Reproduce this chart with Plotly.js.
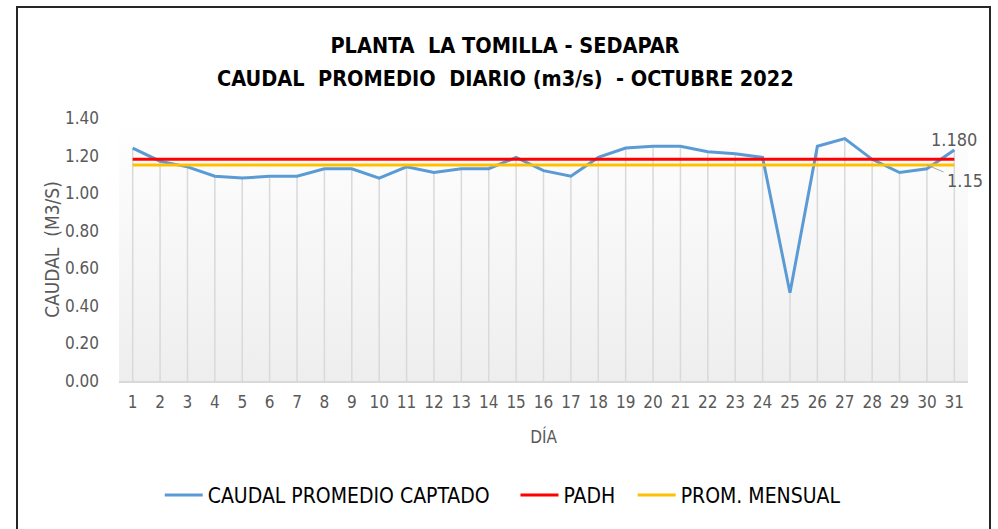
<!DOCTYPE html>
<html>
<head>
<meta charset="utf-8">
<script src="https://cdn.plot.ly/plotly-3.0.1.min.js"></script>
<style>
  html, body { margin: 0; padding: 0; background: #ffffff; overflow: hidden; }
  #wrap { position: relative; width: 998px; height: 529px; }
  #frame { position: absolute; left: 16px; top: 6px; width: 975px; height: 600px; border: 2px solid #262626; box-sizing: border-box; pointer-events: none; z-index: 5; }
  #chart { position: absolute; left: 0; top: 0; width: 998px; height: 529px; }
</style>
</head>
<body>
<div id="wrap">
  <div id="chart"></div>
  <div id="frame"></div>
</div>
<script>
// ---- data ----
const days = ["1","2","3","4","5","6","7","8","9","10","11","12","13","14","15","16","17","18","19","20","21","22","23","24","25","26","27","28","29","30","31"];
const caudal = [1.24,1.17,1.14,1.09,1.08,1.09,1.09,1.13,1.13,1.08,1.14,1.11,1.13,1.13,1.19,1.12,1.09,1.19,1.24,1.25,1.25,1.22,1.21,1.19,0.47,1.25,1.29,1.18,1.11,1.13,1.23];
const padh = [1.18,1.18,1.18,1.18,1.18,1.18,1.18,1.18,1.18,1.18,1.18,1.18,1.18,1.18,1.18,1.18,1.18,1.18,1.18,1.18,1.18,1.18,1.18,1.18,1.18,1.18,1.18,1.18,1.18,1.18,1.18];
const prom = [1.15,1.15,1.15,1.15,1.15,1.15,1.15,1.15,1.15,1.15,1.15,1.15,1.15,1.15,1.15,1.15,1.15,1.15,1.15,1.15,1.15,1.15,1.15,1.15,1.15,1.15,1.15,1.15,1.15,1.15,1.15];
const seriesNames = ["CAUDAL PROMEDIO CAPTADO", "PADH", "PROM. MENSUAL"];
const titleLine1 = "PLANTA  LA TOMILLA - SEDAPAR";
const titleLine2 = "CAUDAL  PROMEDIO  DIARIO (m3/s)  - OCTUBRE 2022";
const padhLabel = "1.180";
const promLabel = "1.15";
const yTickVals = [0, 0.2, 0.4, 0.6, 0.8, 1.0, 1.2, 1.4];

const FONT = '"Liberation Sans Narrow", "DejaVu Sans Condensed", "Liberation Sans", sans-serif';

const gradSvg = '<svg xmlns="http://www.w3.org/2000/svg" width="10" height="100" preserveAspectRatio="none">' +
  '<defs><linearGradient id="g" x1="0" y1="0" x2="0" y2="1"><stop offset="0" stop-color="#ffffff"/><stop offset="1" stop-color="#eeeeee"/></linearGradient></defs>' +
  '<rect width="10" height="100" fill="url(#g)"/></svg>';
const gradUri = 'data:image/svg+xml;base64,' + btoa(gradSvg);

const lastIdx = days.length - 1;

const traces = [
  { // drop lines
    x: days, y: caudal, type: 'scatter', mode: 'markers',
    marker: { size: 1, color: 'rgba(0,0,0,0)' },
    error_y: { type: 'data', symmetric: false, array: caudal.map(() => 0), arrayminus: caudal, width: 0, color: '#d9d9d9', thickness: 1.5 },
    showlegend: false, hoverinfo: 'skip'
  },
  { x: days, y: caudal, type: 'scatter', mode: 'lines', name: seriesNames[0], legend: 'legend',
    line: { color: '#5b9bd5', width: 3 } },
  { x: days, y: padh, type: 'scatter', mode: 'lines', name: seriesNames[1], legend: 'legend2',
    line: { color: '#ff0000', width: 3 } },
  { x: days, y: prom, type: 'scatter', mode: 'lines', name: seriesNames[2], legend: 'legend3',
    line: { color: '#ffc000', width: 3 } }
];

const legFont = { family: FONT, size: 21, color: '#000000' };
function leg(x) {
  return { orientation: 'h', x: x, xanchor: 'left', y: -0.435, yanchor: 'middle',
    font: legFont, itemwidth: 38, bgcolor: 'rgba(0,0,0,0)' };
}

const titleFont = { family: FONT, size: 21.5, color: '#000000', weight: 'bold' };

const layout = {
  width: 998, height: 529,
  margin: { l: 119, r: 30, t: 118, b: 148, pad: 0 },
  paper_bgcolor: 'rgba(0,0,0,0)',
  plot_bgcolor: 'rgba(0,0,0,0)',
  font: { family: FONT, color: '#595959' },
  title: {
    text: titleLine1,
    font: titleFont,
    x: 0.506, xanchor: 'center', y: 1 - 45 / 529, yanchor: 'middle'
  },
  showlegend: true,
  legend: leg(0.048),
  legend2: leg(0.467),
  legend3: leg(0.605),
  xaxis: {
    type: 'category', range: [-0.5, 30.5],
    showgrid: false, zeroline: false,
    showline: true, linecolor: '#d9d9d9', linewidth: 1.5,
    ticks: '', tickfont: { family: FONT, size: 17, color: '#595959' },
    ticklabelstandoff: 5,
    title: { text: 'DÍA', font: { family: FONT, size: 17, color: '#595959' }, standoff: 20 }
  },
  yaxis: {
    range: [0, 1.4], tickvals: yTickVals, tickformat: '.2f',
    showgrid: false, zeroline: false, showline: false,
    ticks: '', tickfont: { family: FONT, size: 17, color: '#595959' },
    ticklabelstandoff: 19,
    title: { text: 'CAUDAL  (M3/S)', font: { family: FONT, size: 19, color: '#595959' }, standoff: 0 }
  },
  images: [{
    source: gradUri, xref: 'paper', yref: 'paper', x: 0, y: 1, sizex: 1, sizey: 1,
    xanchor: 'left', yanchor: 'top', sizing: 'stretch', layer: 'below'
  }],
  annotations: [
    { xref: 'paper', yref: 'paper', x: (505 - 119) / 849, y: (381 - 78) / 263, xanchor: 'center', yanchor: 'middle',
      text: titleLine2, showarrow: false, font: titleFont },
    { x: lastIdx, y: padh[lastIdx], xref: 'x', yref: 'y',
      text: padhLabel, showarrow: false, yshift: 20, xshift: 0,
      font: { family: FONT, size: 18, color: '#595959' } },
    { x: lastIdx - 1, y: prom[lastIdx - 1], xref: 'x', yref: 'y',
      text: promLabel, showarrow: true, arrowhead: 0, arrowwidth: 1, arrowcolor: '#a6a6a6',
      ax: 38, ay: 16, startstandoff: 2,
      font: { family: FONT, size: 18, color: '#595959' } }
  ],
  hovermode: false
};

Plotly.newPlot('chart', traces, layout, { displayModeBar: false, staticPlot: true });
</script>
</body>
</html>
